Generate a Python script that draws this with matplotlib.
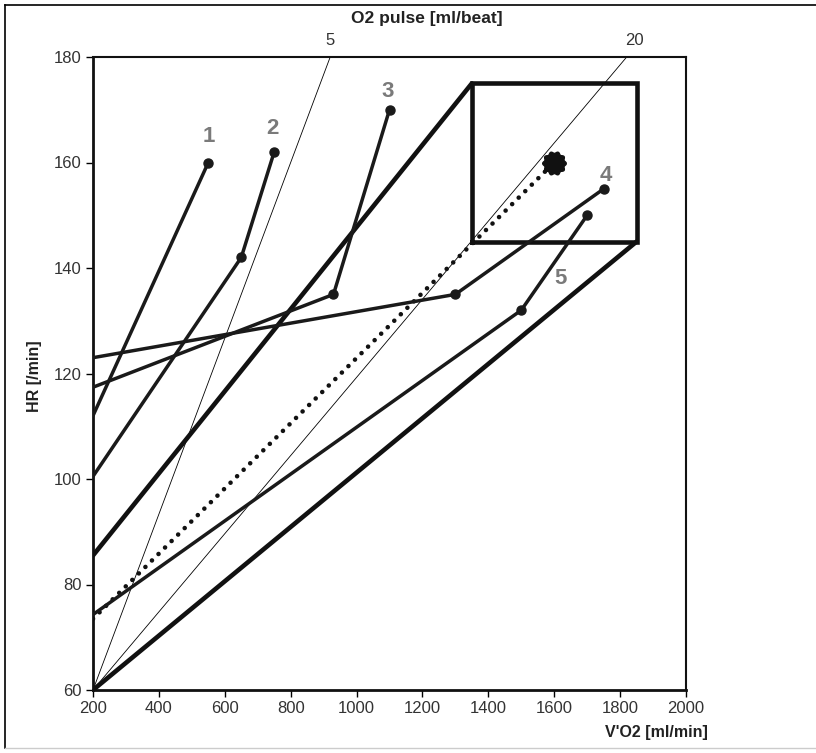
import numpy as np
import matplotlib
matplotlib.use("Agg")
import matplotlib.pyplot as plt
from matplotlib.path import Path
import matplotlib.transforms as mtransforms

plt.rcParams['font.family'] = ['Liberation Sans', 'DejaVu Sans']

# ---- data ----
series_vo2 = {
    "1": [200, 550],
    "2": [200, 650, 750],
    "3": [200, 930, 1100],
    "4": [200, 1300, 1750],
    "5": [200, 1500, 1700],
}
series_hr = {
    "1": [112, 160],
    "2": [100.5, 142, 162],
    "3": [117.4, 135, 170],
    "4": [123, 135, 155],
    "5": [74.3, 132, 150],
}
label_pos_vo2 = {"1": 552, "2": 745, "3": 1095, "4": 1757, "5": 1620}
label_pos_hr = {"1": 165, "2": 166.5, "3": 173.5, "4": 157.5, "5": 138}

# reference envelope
env_upper_vo2 = [200, 1350]
env_upper_hr = [85.5, 175]
env_lower_vo2 = [200, 1850]
env_lower_hr = [60, 145]
box_vo2 = [1350, 1850]
box_hr = [145, 175]

# predicted (dotted) line
pred_vo2 = [200, 1600]
pred_hr = [73.5, 160]

# O2 pulse isolines
iso_labels = ["5", "20"]
iso_vo2 = [[200, 920], [200, 1820]]
iso_hr = [[60, 180], [60, 180]]

xticks = [200, 400, 600, 800, 1000, 1200, 1400, 1600, 1800, 2000]
yticks = [60, 80, 100, 120, 140, 160, 180]

# ---- figure ----
W, H = 816, 753
fig = plt.figure(figsize=(W / 100, H / 100), dpi=100)
ax = fig.add_axes([93 / W, 1 - 690 / H, (686 - 93) / W, (690 - 57) / H])

# figure frame
fig.add_artist(plt.Line2D([5 / W, 1], [1 - 5 / H, 1 - 5 / H], transform=fig.transFigure, color='black', lw=1.2))
fig.add_artist(plt.Line2D([5 / W, 5 / W], [1 - 5 / H, 1 - 748 / H], transform=fig.transFigure, color='black', lw=1.2))
fig.add_artist(plt.Line2D([5 / W, 1], [1 - 748 / H, 1 - 748 / H], transform=fig.transFigure, color='#cccccc', lw=1.0))

ax.set_xlim(200, 2000)
ax.set_ylim(60, 180)

# isolines
for xs, ys in zip(iso_vo2, iso_hr):
    ax.plot(xs, ys, color='black', lw=0.6, zorder=2)
trans = mtransforms.blended_transform_factory(ax.transData, ax.transAxes)
for lab, xs in zip(iso_labels, iso_vo2):
    ax.text(xs[1] + (25 if lab == '20' else 0), 1.014, lab, transform=trans, ha='center',
            va='bottom', fontsize=12, color='#333333')

# envelope
ax.plot(env_upper_vo2, env_upper_hr, color='#111111', lw=3.3, solid_capstyle='round', zorder=3)
ax.plot(env_lower_vo2, env_lower_hr, color='#111111', lw=3.3, solid_capstyle='round', zorder=3)
ax.plot([box_vo2[0], box_vo2[1], box_vo2[1], box_vo2[0], box_vo2[0]],
        [box_hr[0], box_hr[0], box_hr[1], box_hr[1], box_hr[0]],
        color='#111111', lw=3.3, solid_joinstyle='miter', zorder=3)

# predicted dotted line
ax.plot(pred_vo2, pred_hr, color='#111111', lw=3.3, linestyle=(0, (0.01, 2.0)),
        dash_capstyle='round', zorder=3)
# blob marker
ang = np.linspace(0, 2 * np.pi, 161)
rad = 1 + 0.08 * np.cos(10 * ang)
verts = np.column_stack([rad * np.cos(ang), rad * np.sin(ang)])
blob = Path(verts)
ax.plot([pred_vo2[-1]], [pred_hr[-1]], marker=blob, markersize=17, color='#111111',
        linestyle='none', zorder=4)

# series
for key in series_vo2:
    xs = series_vo2[key]
    ys = series_hr[key]
    ax.plot(xs, ys, color='#1a1a1a', lw=2.5, solid_capstyle='round', zorder=4)
    ax.plot(xs[1:], ys[1:], 'o', color='#1a1a1a', markersize=6.5, zorder=5)
    ax.text(label_pos_vo2[key], label_pos_hr[key], key, ha='center', va='center',
            fontsize=16, fontweight='bold', color='#7a7a7a', zorder=6)

ax.set_xticks(xticks)
ax.set_yticks(yticks)
ax.tick_params(direction='out', length=5, width=1, labelsize=12, colors='black',
               labelcolor='#333333', pad=3)
for s in ax.spines.values():
    s.set_linewidth(1.5)
    s.set_color('#111111')
ax.spines['left'].set_linewidth(2)
ax.spines['bottom'].set_linewidth(2)

fig.text(708 / W, 1 - 733 / H, "V'O2 [ml/min]", ha='right', va='center', fontsize=11.5,
         fontweight='bold', color='#222222')
fig.text(35 / W, 1 - 376 / H, "HR [/min]", ha='center', va='center', rotation=90,
         fontsize=11.5, fontweight='bold', color='#222222')
fig.text(427 / W, 1 - 18 / H, "O2 pulse [ml/beat]", ha='center', va='center', fontsize=12.5,
         fontweight='bold', color='#222222')

fig.savefig("out.png", dpi=100)
